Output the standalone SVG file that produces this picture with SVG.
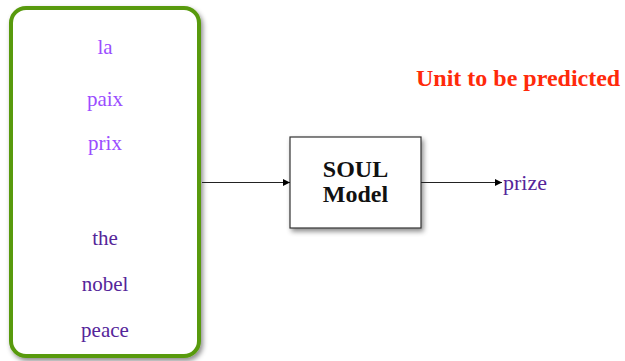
<svg xmlns="http://www.w3.org/2000/svg" width="625" height="361" viewBox="0 0 625 361" font-family="'Liberation Serif', serif">
  <defs>
    <filter id="shadow" x="-20%" y="-20%" width="140%" height="140%">
      <feDropShadow dx="2" dy="3" stdDeviation="2.5" flood-color="#000" flood-opacity="0.45"/>
    </filter>
    <marker id="arrow" viewBox="0 0 10 10" refX="10" refY="5" markerWidth="8" markerHeight="7" markerUnits="userSpaceOnUse" orient="auto">
      <path d="M0,0 L10,5 L0,10 z" fill="#000"/>
    </marker>
    <style>
      .word { font-size: 21px; text-anchor: middle; }
      .fr { fill: #9b4dff; }
      .en { fill: #55259a; }
      .conn { stroke: #222; stroke-width: 1.2; fill: none; marker-end: url(#arrow); }
      .bold { font-weight: bold; }
    </style>
  </defs>

  <rect width="625" height="361" fill="#fff"/>

  <!-- Context window -->
  <g id="context" font-family="'Liberation Serif', serif">
    <rect x="11" y="8" width="188" height="348" rx="15" ry="15" fill="#fff" stroke="#589a0c" stroke-width="4" filter="url(#shadow)"/>
    <text class="word fr" x="105" y="54" font-family="'Liberation Serif', serif">la</text>
    <text class="word fr" x="105" y="106" font-family="'Liberation Serif', serif">paix</text>
    <text class="word fr" x="105" y="150" font-family="'Liberation Serif', serif">prix</text>
    <text class="word en" x="105" y="245" font-family="'Liberation Serif', serif">the</text>
    <text class="word en" x="105" y="291" font-family="'Liberation Serif', serif">nobel</text>
    <text class="word en" x="105" y="337" font-family="'Liberation Serif', serif">peace</text>
  </g>

  <!-- Model -->
  <g id="soul">
    <rect x="290" y="137" width="131" height="91" fill="#fff" stroke="#333" stroke-width="1.2" filter="url(#shadow)"/>
    <text class="bold" x="355.5" y="177" font-size="24" text-anchor="middle" fill="#111" font-family="'Liberation Serif', serif">SOUL</text>
    <text class="bold" x="355.5" y="202" font-size="24" text-anchor="middle" fill="#111" font-family="'Liberation Serif', serif">Model</text>
  </g>

  <!-- Output -->
  <g id="output">
    <text x="503" y="190" font-size="22" fill="#55259a" font-family="'Liberation Serif', serif">prize</text>
  </g>

  <g id="label">
    <text class="bold" x="416" y="86" font-size="24" fill="#ff2a0a" font-family="'Liberation Serif', serif">Unit to be predicted</text>
  </g>

  <g id="connectors">
    <line class="conn" x1="202" y1="182.5" x2="290" y2="182.5"/>
    <line class="conn" x1="421" y1="182.5" x2="502" y2="182.5"/>
  </g>
</svg>
